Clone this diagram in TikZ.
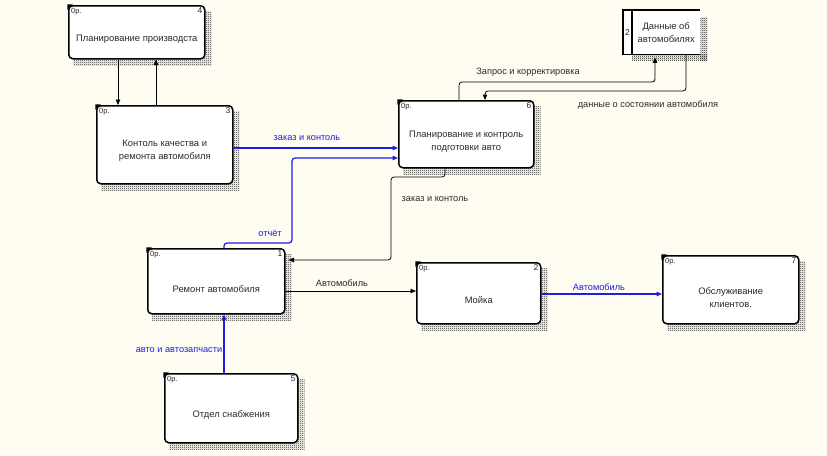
\documentclass[tikz,border=0pt]{standalone}
\usepackage{fontspec}
\setmainfont{Liberation Sans}
\usetikzlibrary{arrows.meta,patterns,calc}
\definecolor{bg}{HTML}{FFFCF2}
\definecolor{arrblue}{HTML}{1E1EE6}
\definecolor{txt}{HTML}{2A2A2A}
\pgfdeclarepatternformonly{finecheck}{\pgfpointorigin}{\pgfqpoint{2pt}{2pt}}{\pgfqpoint{2pt}{2pt}}{%
  \pgfpathrectangle{\pgfpointorigin}{\pgfqpoint{1pt}{1pt}}%
  \pgfpathrectangle{\pgfqpoint{1pt}{1pt}}{\pgfqpoint{1pt}{1pt}}%
  \pgfusepath{fill}}
\pgfdeclarelayer{back}
\pgfsetlayers{back,main}
\begin{document}
\begin{tikzpicture}[x=1pt,y=-1pt,
  hatch/.style={pattern=finecheck, pattern color=black!85},
  box/.style={draw, line width=1.5pt, rounded corners=4pt, fill=white, inner sep=0pt,
    anchor=north west},
  boxtext/.style={align=center, font=\fontsize{9.4}{13}\selectfont, text=txt, inner sep=1pt},
  tiny/.style={font=\fontsize{7.5}{8}\selectfont, text=txt, inner sep=1pt},
  conn/.style={draw=black, line width=0.8pt, rounded corners=3pt, -{Triangle[length=5.5pt,width=4.5pt]}},
  bconn/.style={conn, draw=arrblue, line width=1.2pt},
  lbl/.style={font=\fontsize{9.2}{10}\selectfont, text=txt, inner sep=1pt},
  blbl/.style={lbl, text=arrblue}
]
\begin{pgfonlayer}{back}
\fill[bg] (0,0) rectangle (827,455);
\end{pgfonlayer}
\useasboundingbox (0,0) rectangle (827,455);

% boxes
\node[box, minimum width=136pt, minimum height=53pt] (b4) at (68,5) {};
\node[box, minimum width=136pt, minimum height=78pt] (b3) at (96,105) {};
\node[box, minimum width=135pt, minimum height=67pt] (b6) at (398,100) {};
\node[box, minimum width=137pt, minimum height=65pt] (b1) at (147,248) {};
\node[box, minimum width=124pt, minimum height=61pt] (b2) at (416,262) {};
\node[box, minimum width=136pt, minimum height=68pt] (b7) at (662,255) {};
\node[box, minimum width=133pt, minimum height=69pt] (b5) at (164,373) {};

\node[boxtext] (t4) at ([yshift=-7pt]b4.center) {Планирование производста};
\node[boxtext] (t3) at ([yshift=-6pt]b3.center) {Контоль качества и\\ремонта автомобиля};
\node[boxtext] (t6) at ([yshift=-7pt]b6.center) {Планирование и контроль\\подготовки авто};
\node[boxtext] (t1) at ([yshift=-8pt]b1.center) {Ремонт автомобиля};
\node[boxtext] (t2) at ([yshift=-7pt]b2.center) {Мойка};
\node[boxtext] (t7) at ([yshift=-8pt]b7.center) {Обслуживание\\клиентов.};
\node[boxtext] (t5) at ([yshift=-7pt]b5.center) {Отдел снабжения};

\foreach \b/\n in {b4/4,b3/3,b6/6,b1/1,b2/2,b7/7,b5/5}{
  \begin{pgfonlayer}{back}
  \fill[hatch] ([shift={(5,6)}]\b.north west) rectangle ([shift={(6,6)}]\b.south east);
  \end{pgfonlayer}
  \fill ([shift={(-0.75,-0.75)}]\b.north west) -- ++(5.5,0) -- ++(-5.5,5.5) -- cycle;
  \node[tiny, anchor=north west] (\b op) at ([shift={(2,2)}]\b.north west) {0р.};
  \node[tiny, font=\fontsize{8.5}{9}\selectfont, anchor=north east] (\b num) at ([shift={(-2,1.5)}]\b.north east) {\n};
}

% data store
\node[minimum width=77pt, minimum height=44pt, inner sep=0pt, anchor=north west] (ds) at (623,10) {};
\fill[hatch] ([shift={(9,0)}]ds.south west) rectangle ([shift={(7,6)}]ds.south east);
\fill[hatch] ([shift={(0,7)}]ds.north east) rectangle ([shift={(7,6)}]ds.south east);
\fill[white] (ds.north west) rectangle (ds.south east);
\draw[line width=1.5pt] (ds.north east) -- (ds.north west) -- (ds.south west) -- (ds.south east);
\draw[line width=1.5pt] ([xshift=9pt]ds.north west) -- ([xshift=9pt]ds.south west);
\node[tiny, font=\fontsize{8.5}{9}\selectfont] (dsnum) at ([xshift=4.5pt]ds.west) {2};
\node[boxtext] (dst) at ([xshift=4.5pt]ds.center) {Данные об\\автомобилях};

% connectors
\draw[conn] (118,0 |- b4.south) -- (118,0 |- b3.north);
\draw[conn] (156,0 |- b3.north) -- (156,0 |- b4.south);
\draw[bconn] (b3.east |- 0,148) -- (b6.west |- 0,148);
\draw[bconn] (224,0 |- b1.north) -- (224,243) -- (292,243) -- (292,158) -- (b6.west |- 0,158);
\draw[conn] (445,0 |- b6.south) -- (445,177) -- (391,177) -- (391,260) -- ([xshift=3pt]b1.east |- 0,260);
\draw[conn] (b1.east |- 0,291) -- (b2.west |- 0,291);
\draw[bconn] (b2.east |- 0,294) -- (b7.west |- 0,294);
\draw[bconn] (224,0 |- b5.north) -- (224,0 |- b1.south);
\draw[conn] (459,0 |- b6.north) -- (459,82) -- (655,82) -- ([yshift=-3pt]655,0 |- ds.south);
\draw[conn] (686,0 |- ds.south) -- (686,91) -- (485,91) -- (485,0 |- b6.north);

% labels
\node[blbl] (l1) at (307,138) {заказ и контоль};
\node[blbl] (l2) at (270,233) {отчёт};
\node[lbl] (l3) at (435,199) {заказ и контоль};
\node[lbl] (l4) at (342,283) {Автомобиль};
\node[blbl] (l5) at (599,287) {Автомобиль};
\node[blbl] (l6) at (179,350) {авто и автозапчасти};
\node[lbl] (l7) at (528,72) {Запрос и корректировка};
\node[lbl] (l8) at (648,105) {данные о состоянии автомобиля};
\end{tikzpicture}
\end{document}
